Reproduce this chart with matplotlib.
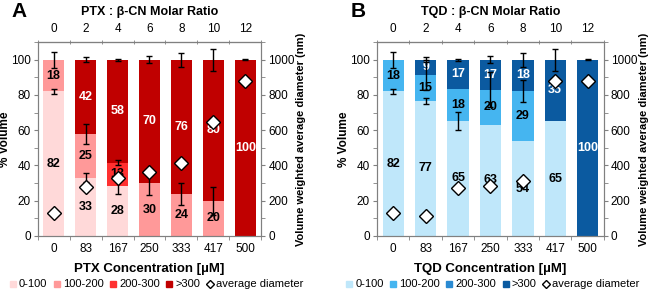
import numpy as np
import matplotlib
matplotlib.use('Agg')
import matplotlib.pyplot as plt
from matplotlib.lines import Line2D
from matplotlib.ticker import MultipleLocator

plt.rcParams['font.family'] = ['Liberation Sans', 'DejaVu Sans']

conc_labels = ['0', '83', '167', '250', '333', '417', '500']
ratio_labels = ['0', '2', '4', '6', '8', '10', '12']
size_classes = ['0-100', '100-200', '200-300', '>300']

# PTX (panel A), % volume per size class
ptx_0_100 = [82, 33, 28.4, 0, 0, 0, 0]
ptx_100_200 = [18, 25, 0, 30, 24, 20, 0]
ptx_200_300 = [0, 0, 13.2, 0, 0, 0, 0]
ptx_gt300 = [0, 42, 58.4, 70, 76, 80, 100]
ptx_err = [[1.3, 2.5, 4.7, 0, 0, 0, 0],
           [4.5, 5.7, 0, 6.6, 6.3, 8, 0],
           [0, 0, 1.5, 0, 0, 0, 0],
           [0, 1.5, 0.5, 2, 4, 6.3, 0.3]]
ptx_diam = [129, 280, 331, 365, 413, 644, 877]

# TQD (panel B)
tqd_0_100 = [82, 76.6, 65.3, 63, 53.6, 65, 0]
tqd_100_200 = [18, 14.8, 18, 20, 28.6, 0, 0]
tqd_200_300 = [0, 0, 0, 0, 0, 0, 0]
tqd_gt300 = [0, 8.6, 16.7, 17, 17.8, 35, 100]
tqd_err = [[1.3, 1.5, 5, 0, 0, 0, 0],
           [4.5, 8.5, 0, 10, 6, 0, 0],
           [0, 0, 0, 0, 0, 0, 0],
           [0, 1.5, 0.5, 2, 4, 6.3, 0.3]]
tqd_diam = [129, 115, 271, 284, 312, 877, 877]

red_colors = ['#ffd9d9', '#ff9999', '#ff3030', '#c00000']
blue_colors = ['#bfe7fa', '#45b5f0', '#2a8ad2', '#0b5aa0']
spine_col = '#808080'


def draw_panel(fig, rect, segs, errs, diam, colors, drug, letter, leg_x):
    ax = fig.add_axes(rect)
    x = np.arange(len(conc_labels))
    bottom = np.zeros(len(x))
    for k, seg in enumerate(segs):
        seg = np.array(seg, dtype=float)
        ax.bar(x, seg, bottom=bottom, width=0.66, color=colors[k], zorder=2)
        for i in range(len(x)):
            if seg[i] > 0:
                txtcol = 'white' if k == 3 else 'black'
                ax.text(x[i], bottom[i] + seg[i] / 2, f'{seg[i]:.0f}', ha='center', va='center',
                        fontsize=9, fontweight='bold', color=txtcol, zorder=4)
        bottom = bottom + seg
        tops = bottom.copy()
        for i in range(len(x)):
            if errs[k][i] > 0:
                ax.errorbar(x[i], tops[i], yerr=errs[k][i], color='black', lw=1,
                            capsize=2, capthick=1, zorder=5)

    ax.set_xlim(-0.5, len(x) - 0.5)
    ax.set_ylim(0, 110)
    ax.set_yticks(np.arange(0, 101, 20))
    ax.yaxis.set_minor_locator(MultipleLocator(10))
    ax.set_xticks(x)
    ax.set_xticklabels(conc_labels)
    ax.set_xticks(np.arange(-0.5, len(x), 1), minor=True)
    ax.tick_params(axis='x', which='major', length=0, labelsize=8.5, pad=5)
    ax.tick_params(axis='x', which='minor', length=3, color=spine_col)
    ax.tick_params(axis='y', which='both', labelsize=8.5, length=3, color=spine_col, pad=2)
    ax.set_xlabel(f'{drug} Concentration [\u00b5M]', fontsize=9.5, fontweight='bold', labelpad=6)
    ax.set_ylabel('% Volume', fontsize=8.5, fontweight='bold', labelpad=0)
    for sp in ax.spines.values():
        sp.set_color(spine_col)

    top = ax.secondary_xaxis('top')
    top.set_xticks(x)
    top.set_xticklabels(ratio_labels)
    top.set_xticks(np.arange(-0.5, len(x), 1), minor=True)
    top.tick_params(axis='x', which='major', length=0, labelsize=8.5, pad=5)
    top.tick_params(axis='x', which='minor', length=3, direction='inout', color=spine_col)
    top.set_xlabel(f'{drug} : \u03b2-CN Molar Ratio', fontsize=9, fontweight='bold', labelpad=6)
    top.spines['top'].set_color(spine_col)

    ax2 = ax.twinx()
    ax2.plot(x, diam, linestyle='none', marker='D', markersize=7, markerfacecolor='white',
             markeredgecolor='black', markeredgewidth=1, zorder=6)
    ax2.set_ylim(0, 1100)
    ax2.set_yticks(np.arange(0, 1001, 200))
    ax2.yaxis.set_minor_locator(MultipleLocator(100))
    ax2.tick_params(axis='y', which='both', labelsize=8.5, length=3, color=spine_col, pad=2)
    ax2.set_ylabel('Volume weighted average diameter (nm)', fontsize=8, fontweight='bold', labelpad=1)
    for sp in ax2.spines.values():
        sp.set_color(spine_col)

    handles = [Line2D([], [], linestyle='none', marker='s', markersize=4.5, color=c) for c in colors]
    handles.append(Line2D([], [], linestyle='none', marker='D', markersize=4.5, markerfacecolor='white',
                          markeredgecolor='black'))
    ax.legend(handles, size_classes + ['average diameter'], loc='center',
              bbox_to_anchor=(leg_x, -0.25), ncol=5, frameon=False, fontsize=8,
              handlelength=0.6, handletextpad=0.25, columnspacing=0.55, borderaxespad=0,
              borderpad=0)

    fig.text(rect[0] - 0.04, 0.93, letter, fontsize=15, fontweight='bold', ha='left', va='bottom')
    return ax


fig = plt.figure(figsize=(6.5, 2.97), dpi=100)
draw_panel(fig, [0.058, 0.2054, 0.344, 0.6532],
           [ptx_0_100, ptx_100_200, ptx_200_300, ptx_gt300], ptx_err, ptx_diam,
           red_colors, 'PTX', 'A', 0.53)
draw_panel(fig, [0.58, 0.2054, 0.349, 0.6532],
           [tqd_0_100, tqd_100_200, tqd_200_300, tqd_gt300], tqd_err, tqd_diam,
           blue_colors, 'TQD', 'B', 0.51)

fig.savefig('out.png', dpi=100)
